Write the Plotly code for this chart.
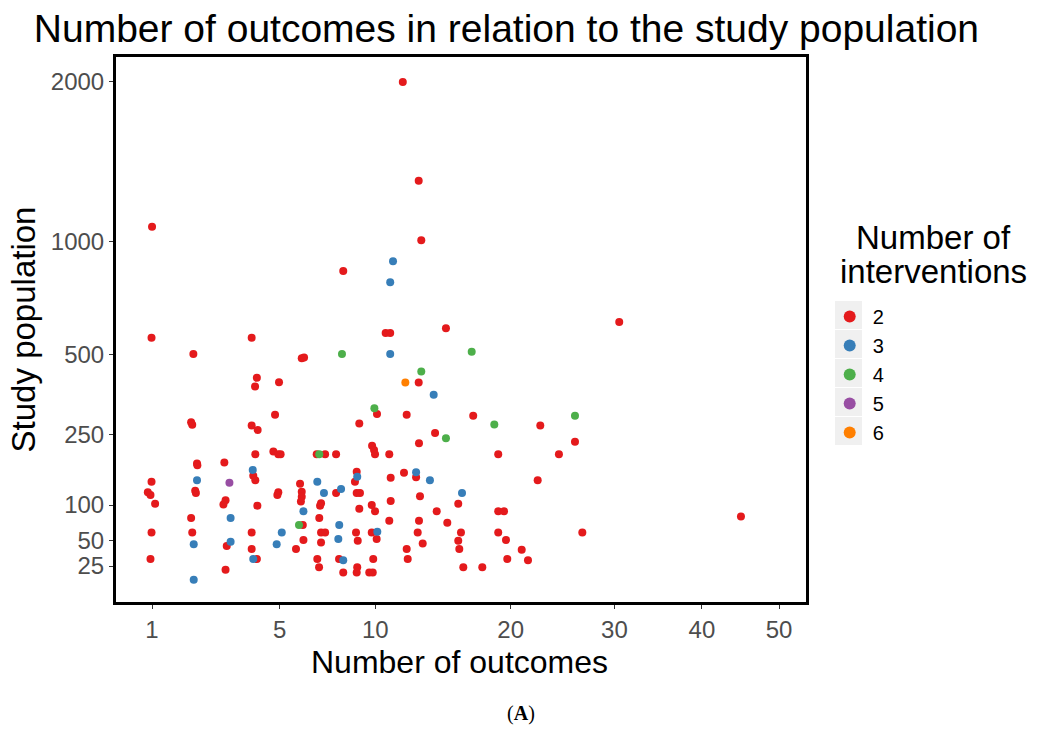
import numpy as np
import plotly.graph_objects as go

# Number of outcomes (x) and study population (y) per study, grouped by number of interventions
x_two = [1.00, 0.99, 1.96, 3.86, 6.00, 6.11, 4.06, 3.99, 4.97, 4.80, 1.90, 1.93, 3.86, 4.09,
         4.73, 4.94, 5.04, 4.00, 6.73, 7.16, 7.74, 9.80, 9.92, 9.98, 10.87, 12.85, 18.94,
         0.99, 0.92, 0.97, 1.06, 0.99, 0.97, 2.06, 2.07, 2.01, 2.03, 1.90, 1.93, 2.89, 2.93,
         2.86, 2.97, 2.93, 3.92, 4.00, 5.92, 4.94, 4.90, 6.00, 6.00, 5.96, 7.74, 8.89, 8.79,
         8.89, 9.08, 4.08, 6.95, 6.90, 9.04, 9.78, 9.98, 6.86, 6.05, 3.86, 6.95, 7.16, 8.85,
         9.78, 6.08, 6.95, 8.95, 10.08, 3.86, 5.73, 4.06, 6.76, 7.90, 9.87, 6.85, 8.13, 8.92,
         8.89, 9.63, 9.84, 10.96, 11.83, 12.65, 10.96, 12.92, 15.72, 14.11, 18.94, 19.43,
         10.87, 12.85, 14.89, 12.76, 15.93, 18.94, 13.11, 15.72, 15.80, 19.60, 12.01, 12.08,
         16.11, 17.62, 19.71, 14.79, 30.51, 16.89, 22.65, 25.96, 24.40, 22.41, 26.69, 20.97,
         21.53, 44.92, 11.75, 12.83, 13.01, 8.13, 10.64, 10.93, 12.83, 10.10, 9.04, 12.01,
         13.99]
y_two = [1079, 563, 502, 563, 486, 489, 418, 389, 403, 303, 282, 275, 273, 261,
         207, 201, 201, 201, 201, 201, 201, 221, 211, 201, 201, 227, 201,
         142, 122, 117, 102, 60, 31, 180, 176, 125, 121, 80, 60, 182, 108,
         101, 44, 22, 154, 145, 138, 122, 117, 123, 114, 106, 121, 162, 142,
         121, 121, 99, 103, 99, 94, 100, 90, 80, 70, 60, 60, 60, 60,
         60, 51, 48, 50, 52, 41, 41, 31, 31, 31, 31, 24, 20, 24,
         20, 20, 20, 150, 160, 151, 107, 115, 102, 90, 90, 90,
         76, 76, 73, 60, 60, 60, 47, 50, 41, 51, 41, 31,
         24, 24, 31, 601, 626, 300, 273, 231, 201, 145, 60, 40,
         30, 82, 2000, 1341, 1007, 853, 582, 582, 402, 305, 279, 303,
         253]

x_three = [2.06, 1.97, 1.97, 3.10, 3.10, 3.90, 6.76, 7.10, 8.01, 8.92, 6.08, 7.91, 5.09,
           10.12, 7.86, 4.87, 3.92, 8.13, 12.65, 13.62, 16.01, 11.11, 10.93, 10.93, 13.89]
y_three = [145, 46, 15, 80, 49, 166, 142, 121, 128, 152, 90, 70, 60,
           61, 52, 46, 31, 30, 161, 145, 121, 900, 800, 502, 363]

x_four = [6.86, 5.87, 16.77, 18.61, 14.79, 25.96, 8.06, 13.01, 9.94]
y_four = [201, 70, 510, 276, 240, 300, 502, 439, 322]

x_five = [3.06]
y_five = [140]

x_six = [11.92]
y_six = [402]

groups = [
    ("2", x_two, y_two, "#E41A1C"),
    ("3", x_three, y_three, "#377EB8"),
    ("4", x_four, y_four, "#4DAF4A"),
    ("5", x_five, y_five, "#984EA3"),
    ("6", x_six, y_six, "#FF7F00"),
]

x_ticks = [1, 5, 10, 20, 30, 40, 50]
y_ticks = [25, 50, 100, 250, 500, 1000, 2000]

FONT = "Liberation Sans, Arial, sans-serif"

# plot area in pixels (left, right, top, bottom) for placing titles and legend decorations
L, R, T, B = 116, 806, 57, 602
W, H = R - L, B - T


def px_x(v):
    return (v - L) / W


def px_y(v):
    return (B - v) / H


fig = go.Figure()
for name, xs, ys, color in groups:
    fig.add_trace(go.Scatter(
        x=np.sqrt(xs), y=np.sqrt(ys), mode="markers", name=name,
        marker=dict(size=8, color=color, line=dict(width=0)),
        customdata=np.column_stack([xs, ys]),
        hovertemplate="Outcomes: %{customdata[0]:.0f}<br>Population: %{customdata[1]:.0f}<extra></extra>",
    ))

# square-root scales on both axes
axis_common = dict(
    showgrid=False, zeroline=False,
    showline=True, mirror=True, linecolor="black", linewidth=3,
    ticks="outside", ticklen=4, tickwidth=1, tickcolor="#333333",
    tickfont=dict(family=FONT, size=24, color="#4D4D4D"),
)

fig.update_xaxes(
    range=[0.651, 7.332],
    tickvals=np.sqrt(x_ticks), ticktext=[str(v) for v in x_ticks],
    **axis_common,
)
fig.update_yaxes(
    range=[2.046, 46.77],
    tickvals=np.sqrt(y_ticks), ticktext=[str(v) for v in y_ticks],
    title=dict(text="Study population", font=dict(family=FONT, size=33, color="black"), standoff=6),
    **axis_common,
)

fig.update_layout(
    width=1042, height=734,
    margin=dict(l=L, r=1042 - R, t=T, b=734 - B),
    paper_bgcolor="white", plot_bgcolor="white",
    title=dict(text="Number of outcomes in relation to the study population",
               font=dict(family=FONT, size=39, color="black"),
               x=0.486, xanchor="center", y=0.962, yanchor="middle"),
    legend=dict(
        font=dict(family=FONT, size=20, color="black"),
        x=1.03, xanchor="left", y=px_y(297), yanchor="top",
        bgcolor="rgba(0,0,0,0)", itemsizing="constant", itemwidth=36,
    ),
    showlegend=True,
)

# x-axis title
fig.add_annotation(
    text="Number of outcomes", xref="paper", yref="paper",
    x=px_x(459), y=px_y(662), xanchor="center", yanchor="middle", showarrow=False,
    font=dict(family=FONT, size=32, color="black"),
)

# light grey key backgrounds behind the legend symbols
for i in range(len(groups)):
    yc = 315 + 29 * i
    fig.add_shape(
        type="rect", xref="paper", yref="paper", layer="below",
        x0=px_x(835), x1=px_x(862), y0=px_y(yc - 14), y1=px_y(yc + 14),
        fillcolor="#F0F0F0", line=dict(width=0),
    )

# legend heading, two lines
for line, ypix in (("Number of", 237), ("interventions", 271)):
    fig.add_annotation(
        text=line, xref="paper", yref="paper",
        x=px_x(934), y=px_y(ypix),
        xanchor="center", yanchor="middle", showarrow=False,
        font=dict(family=FONT, size=33, color="black"),
    )

fig.add_annotation(
    text="(<b>A</b>)", xref="paper", yref="paper", x=0.587, y=-0.205,
    xanchor="center", yanchor="middle", showarrow=False,
    font=dict(family="Liberation Serif, DejaVu Serif, serif", size=20, color="black"),
)

fig.write_html("out.html")
